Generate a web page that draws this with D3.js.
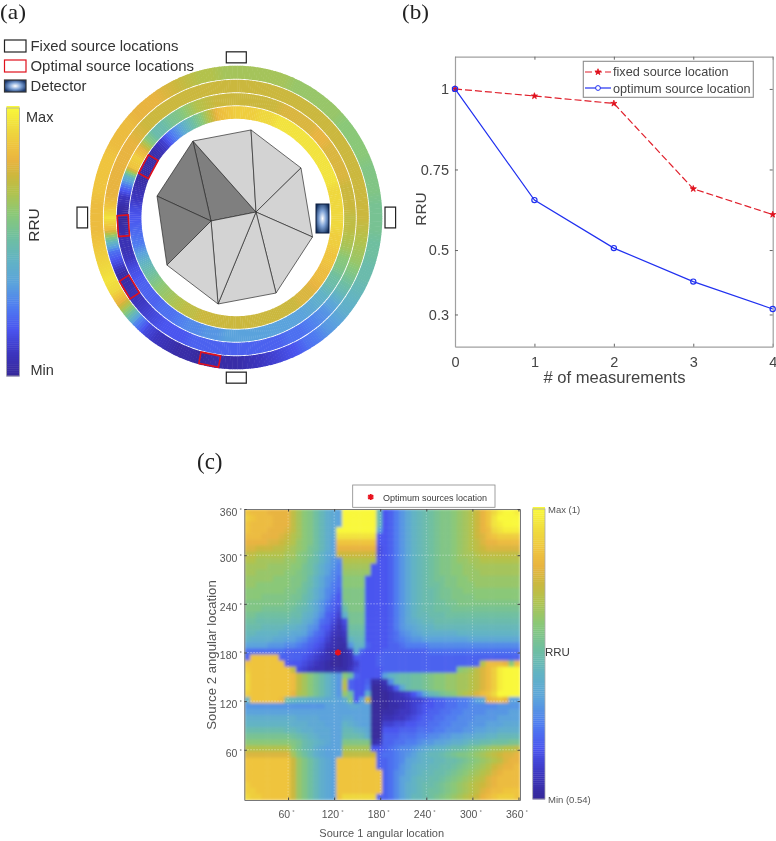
<!DOCTYPE html>
<html>
<head>
<meta charset="utf-8">
<script src="https://cdn.jsdelivr.net/npm/d3@7"></script>
<style>
body { margin: 0; background: #fff; }
svg { display: block; filter: blur(0.35px); }
text { font-family: "Liberation Sans", sans-serif; fill: #3a3a3a; }
.panel { font-family: "Liberation Serif", serif; font-size: 21px; fill: #222; }
.legA { font-size: 15.5px; fill: #333; }
.axB text { font-size: 14.5px; fill: #444; }
.axC text { font-size: 10.5px; fill: #555; }
</style>
</head>
<body>
<svg width="776" height="841"></svg>
<script>
// colour levels 0..35 (min..max RRU)
const levelStops = [0, 3, 6, 9, 12, 15, 18, 21, 24, 26, 28, 30, 32, 35]
const levelColors = ['#37299b', '#3c36c0', '#4a55ef', '#4f7df0', '#5ba3dc', '#62b3c4', '#6fbfa0', '#8ac878', '#b3c24c', '#cbb83e', '#e8b440', '#efc43e', '#efd83e', '#f9f83a']

// (a) ring values, one per 5 degrees, clockwise from the top
const ring1 = [23,23,23,23,23,22,22,22,22,22,21,21,21,21,20,20,20,19,19,19,18,18,17,17,16,15,14,12,11,9,8,6,5,4,3,2,1,1,1,0,1,1,2,3,5,10,20,28,32,33,32,31,30,29,29,29,30,30,30,30,29,29,29,28,28,28,27,26,25,24,24,23]
const ring2 = [26,26,26,26,26,26,26,26,26,26,26,26,26,26,26,26,26,26,26,25,24,23,22,20,18,16,13,11,10,9,8,8,7,7,7,7,7,7,7,7,7,6,6,6,5,4,3,2,1,1,5,8,17,29,33,30,28,28,28,28,28,28,27,26,26,26,26,26,26,26,26,26]
const ring3 = [26,26,26,26,26,27,27,27,27,28,28,27,27,27,27,26,26,26,25,25,24,23,21,20,18,17,15,14,13,12,12,12,12,12,12,12,12,12,11,11,10,10,9,8,8,7,7,7,6,5,3,2,2,1,0,1,3,8,15,30,31,28,21,17,17,19,20,22,24,25,26,26]
const ring4 = [31,31,31,32,32,33,33,33,33,33,33,33,33,33,33,32,32,32,32,32,31,31,30,30,29,29,28,27,27,26,26,26,26,26,26,26,26,26,26,26,26,25,25,24,23,22,21,19,17,15,12,9,8,7,6,5,3,2,1,1,1,1,2,4,8,11,15,18,21,25,29,30]
const ringData = [ring1, ring2, ring3, ring4]
const ringRadii = [146, 132.5, 119.5, 107, 94]

const fixedAngles = [0, 90, 180, 270]
const optimalAngles = [191, 238, 266, 299]
const optimalRings = [0, 1, 2, 3]

// (a) wire mesh
const meshU = [-0.297, 0.101, 0.443, 0.522, 0.272, -0.125, -0.475, -0.543, 0.135, -0.173]
const meshV = [-0.503, -0.576, -0.326, 0.128, 0.497, 0.569, 0.313, -0.141, -0.036, 0.023]
const darkFaces = [[0, 8, 9], [0, 9, 7], [7, 9, 6]]
const lightFaces = [[0, 1, 8], [1, 2, 8], [2, 3, 8], [3, 4, 8], [4, 5, 8], [5, 9, 8], [5, 6, 9]]

// (b)
const measurements = [0, 1, 2, 3, 4]
const fixedRRU = [1, 0.978, 0.955, 0.69, 0.61]
const optimumRRU = [1, 0.655, 0.506, 0.402, 0.317]
const rruTicks = [0.3, 0.5, 0.75, 1]

// (c) ticks and optimum
const degTicksX = [60, 120, 180, 240, 300, 360]
const degTicksY = [60, 120, 180, 240, 300, 360]
const optimum = [125, 180]

// (c) heat map, one base-36 colour level per cell, read in three column blocks, top row first
const heatLeft = ["utttsssspnlkigedc","vutttssspnlkigedc","uttttssspnlkigedc","utttsssrpnlkigedz","tttsssrqonlkigedx","ssssrrqpomlkigecu","rrqqqpponmljigecs","ppooooonnlkjhfdcq","oonnnnnmmlkihfdba","nnnnmmmmlljigecb9","nnmmmmmllkjigeca9","mmmmmlllkkjhfdba8","mmllllllkkihfdb98","lllllllkkjigeca97","lllkkkkkjjhgeca86","kkkkkkkjjihfdb976","kkkjjjjjihgfdb875","jjiiiiiihhfeca764","iihhhhhhggedb8753","hhhggggffedba7642","ggffffeeddca87532","feeeeddccba876421","ccccbbbaa98765321","88888887777654210","7uuuuu77776543210","uuuuuuu6665432100","vuuuuuuup54322111","wuuuuuuutpnljhfdb","wuuuuuuutpnljhfdb","wuuuuuuutpnljhfdb","vuuuuuuusonljhfdb","fuuuuuthgffeeeddc","bbbbbbbbbbbbbbccc","ccccccccccccccccc","eeeeeeeeeddddcccc","ffffffffeeedddccc","hhhhhhhggfeedddcc","jjjjjjjjihgfeddcc","llllllllkjhgfedcc","ooooooooljhgedccc","rrrrrrrrnkigedccc","uuuuuuuuqmkigedcu","uuuuuuuuqmkigedcu","uuuuuuuuqmkigedcu","uuuuuuuuqmkigedcu","vuuuuuuuqmkigedcu","vvuuuuuuqmkigedcu","wvvuuuuuqmkigedcu"]
const heatMid = ["zzzzzzg","zzzzzzg","zzzzzzg","zzzzzzc","xxxxxx6","uuuuuu6","ssssss5","qqqqqq5","oooooo6","nnnnn66","mmmmm66","llll666","llll666","kkkk666","kkkk666","jkkk666","hkkk666","ejjj666","5jjj666","4iii666","3hhh666","2fgg666","1bff766","13d7666","1266667","1246667","1356666","li76666","o766711","p766800","mi66e00","ek6cq00","cddcc00","ccccc00","ddccc00","fedcc00","ggfed00","hhhge00","kkkkk12","nnnnn66","pppppq7","uuuuuu7","uuuuuu7","uuuuuuu","uuuuuuu","uuuuuuu","uuuuuuu","wwwwww7"]
const heatRight = ["679bdfghijkklmnoqsuwyzzy","679bdfghijkklmnoqsuxzzzz","679bdfghijkklmnoqsuxyzzz","679bdfghijkklmnoqstwxyyy","679bdfghijkklmnoqrtuvvvv","679bdfghijkklmnoprsstttt","679bdfghijkklmnopqrrrrrr","679bdfghijkklmnnoppppppp","679bdfghijkklmmnnooooooo","679bdfghijkkllmmnnnnnnnn","679bdfghijkkllmmmnnnnnnn","679bdfghijjkkllmmmmmmmmm","679bdfghiijkklllmmmmmmmm","679bdfghhijjkkllllllllll","679bdfghhijjkkkkllllllll","679bdfghhiijjkkkkkkkkkkk","679bdfghhiiijjjjjjjjjjjj","679bdfgghhhiiiiiiiiiiiii","679bdefgghhhhhhhhhhhhhhh","679bcdeffggggggggggggggg","678abcdeeeeeefffffffffff","6789abbccccccccddddddddd","67789999aaaaaaaaaaaaaaaa","777777778888888888888888","777777777777777777777777","77777777777777777otttslt","7777777777777lmnprtvyzzz","cfghhiijkllmmnnoprtvyzzz","2aghhiijkllmmnnoprtvyzzz","137dhiijkllmmnnoprtvyzzz","0123469dghjklnoprtuwzzzz","012234456778899acdstuscc","011234566778899aaaaabbbb","11233456778899aaaabbbbcc","2233456778899aaabbbbcccc","445566778899aaabbbcccddd","66677788899aaabbccddeeee","77788899aabbccddeeffgggg","778899abbccdeefgghhiiijj","789aabcdeffghhijklmnnoop","889abcefgghijkklmnopqrrs","789acdeffgghhijklmnoprss","789bceffgghhijklmnoqrsst","78abdefgghhijklmnoprsttt","78acdfgghhijklmnoprstttt","78acefghhijklmnopqrstttt","78acefghiijklmnoprsttuuu","78acegghijklmnopqstuvvvu"]

const svg = d3.select("svg")

const colorScale = d3.scaleLinear().domain(levelStops).range(levelColors)
const barLevels = d3.range(0, 35.01, 0.25)

const defs = svg.append("defs")
const blur = defs.append("filter").attr("id", "heatBlur")
    .attr("x", "-2%").attr("y", "-2%").attr("width", "104%").attr("height", "104%")
blur.append("feGaussianBlur").attr("stdDeviation", 1.8)
const detGrad = defs.append("radialGradient").attr("id", "detector")
    .attr("cx", "50%").attr("cy", "50%").attr("r", "60%")
detGrad.append("stop").attr("offset", "0%").attr("stop-color", "#ffffff")
detGrad.append("stop").attr("offset", "45%").attr("stop-color", "#7fa3d6")
detGrad.append("stop").attr("offset", "100%").attr("stop-color", "#12305f")

function colorBar(x, y0, y1, w) {
    const s = d3.scaleLinear().domain([0, 35]).range([y1, y0])
    const g = svg.append("g")
    g.selectAll("rect").data(barLevels).enter().append("rect")
        .attr("x", x)
        .attr("y", d => s(d) - 2)
        .attr("width", w)
        .attr("height", 2.4)
        .attr("fill", d => colorScale(d))
    g.append("rect")
        .attr("x", x).attr("y", y0).attr("width", w).attr("height", y1 - y0)
        .attr("fill", "none").attr("stroke", "#aaa").attr("stroke-width", 0.8)
}

// ---- panel labels
svg.append("text").attr("class", "panel").attr("x", 0).attr("y", 19)
    .attr("textLength", 26).attr("lengthAdjust", "spacingAndGlyphs").text("(a)")
svg.append("text").attr("class", "panel").attr("x", 402).attr("y", 19)
    .attr("textLength", 27).attr("lengthAdjust", "spacingAndGlyphs").text("(b)")
svg.append("text").attr("class", "panel").attr("x", 197).attr("y", 469).style("font-size", "23px").text("(c)")

// ---- (a)
const cx = 236.3, cy = 217.5
const squash = 1.04
const angleScale = d3.scaleLinear().domain([0, 72]).range([0, 2 * Math.PI])
const rings = svg.append("g").attr("transform", `translate(${cx},${cy}) scale(1,${squash})`)
const arc = d3.arc()

ringData.forEach((values, r) => {
    const subs = []
    values.forEach((v, i) => {
        const next = values[(i + 1) % values.length]
        d3.range(5).forEach(k => subs.push({ pos: i + k / 5, level: d3.interpolateNumber(v, next)(k / 5) }))
    })
    rings.append("g").selectAll("path").data(subs).enter().append("path")
        .attr("d", d => arc({
            innerRadius: ringRadii[r + 1] + 0.9,
            outerRadius: ringRadii[r],
            startAngle: angleScale(d.pos - 0.12),
            endAngle: angleScale(d.pos + 0.12)
        }))
        .attr("fill", d => colorScale(d.level))
})

rings.selectAll("rect.optimal").data(optimalAngles).enter().append("rect")
    .attr("class", "optimal")
    .attr("x", -10).attr("y", -5.5).attr("width", 20).attr("height", 11)
    .attr("transform", (d, i) => `rotate(${d}) translate(0,${-(ringRadii[optimalRings[i]] + ringRadii[optimalRings[i] + 1]) / 2})`)
    .attr("fill", "none").attr("stroke", "#e0101c").attr("stroke-width", 1.6)

rings.selectAll("rect.fixed").data(fixedAngles).enter().append("rect")
    .attr("class", "fixed")
    .attr("x", -10).attr("y", -5.3).attr("width", 20).attr("height", 10.6)
    .attr("transform", d => `rotate(${d}) translate(0,-154)`)
    .attr("fill", "#fff").attr("stroke", "#222").attr("stroke-width", 1.2)

const meshX = d3.scaleLinear().domain([-1, 1]).range([cx - 146, cx + 146])
const meshY = d3.scaleLinear().domain([-1, 1]).range([cy - 152, cy + 152])
const facePath = f => "M" + f.map(i => `${meshX(meshU[i])},${meshY(meshV[i])}`).join("L") + "Z"
svg.append("g").selectAll("path").data(darkFaces).enter().append("path")
    .attr("d", facePath).attr("fill", "#7f7f7f").attr("stroke", "#2b2b2b").attr("stroke-width", 0.7)
svg.append("g").selectAll("path").data(lightFaces).enter().append("path")
    .attr("d", facePath).attr("fill", "#d3d3d3").attr("stroke", "#2b2b2b").attr("stroke-width", 0.7)

svg.append("rect").attr("x", 316).attr("y", 204).attr("width", 13).attr("height", 29)
    .attr("fill", "url(#detector)").attr("stroke", "#0c1c3c").attr("stroke-width", 1)

// legend of (a)
const legendNames = ["Fixed source locations", "Optimal source locations", "Detector"]
const legendWidths = [148, 163.5, 56]
const legendStroke = ["#222", "#e0101c", "#333"]
const legendFill = ["#fff", "#fff", "url(#detectorWide)"]
const detWide = defs.append("radialGradient").attr("id", "detectorWide").attr("r", "55%")
detWide.append("stop").attr("offset", "0%").attr("stop-color", "#ffffff")
detWide.append("stop").attr("offset", "50%").attr("stop-color", "#7fa3d6")
detWide.append("stop").attr("offset", "100%").attr("stop-color", "#1c3a70")
const legA = svg.append("g").selectAll("g").data(legendNames).enter().append("g")
    .attr("transform", (d, i) => `translate(0,${40 + i * 20})`)
legA.append("rect").attr("x", 4.5).attr("y", 0).attr("width", 21.5).attr("height", 12)
    .attr("fill", (d, i) => legendFill[i]).attr("stroke", (d, i) => legendStroke[i]).attr("stroke-width", 1.2)
legA.append("text").attr("class", "legA").attr("x", 30.5).attr("y", 10.5)
    .attr("textLength", (d, i) => legendWidths[i]).attr("lengthAdjust", "spacingAndGlyphs").text(d => d)

colorBar(6.5, 108, 376, 13)
svg.append("text").attr("class", "legA").attr("x", 26).attr("y", 122).style("font-size", "14.5px").text("Max")
svg.append("text").attr("class", "legA").attr("x", 30.5).attr("y", 375).style("font-size", "14.5px").text("Min")
svg.append("text").attr("class", "legA").attr("transform", "translate(39,225) rotate(-90)")
    .attr("text-anchor", "middle").text("RRU")

// ---- (b)
const xB = d3.scaleLinear().domain([0, 4]).range([455, 772.7])
const yB = d3.scaleLinear().domain([0.2, 1.1]).range([346.7, 56.7])
const gB = svg.append("g").attr("class", "axB")

const axisStyle = g => {
    g.select(".domain").attr("stroke", "#a0a0a0").attr("stroke-width", 1.2)
    g.selectAll(".tick line").attr("stroke", "#666")
}
gB.append("g").attr("transform", "translate(0,346.7)")
    .call(d3.axisBottom(xB).tickValues(measurements).tickSizeInner(-3).tickSizeOuter(0).tickPadding(10).tickFormat(d3.format("d")))
    .call(axisStyle)
gB.append("g").attr("transform", "translate(0,56.7)")
    .call(d3.axisTop(xB).tickValues(measurements).tickSizeInner(-3).tickSizeOuter(0).tickFormat(""))
    .call(axisStyle)
gB.append("g").attr("transform", "translate(455,0)")
    .call(d3.axisLeft(yB).tickValues(rruTicks).tickSizeInner(-3).tickSizeOuter(0).tickPadding(6).tickFormat(d => d))
    .call(axisStyle)
gB.append("g").attr("transform", "translate(772.7,0)")
    .call(d3.axisRight(yB).tickValues(rruTicks).tickSizeInner(-3).tickSizeOuter(0).tickFormat(""))
    .call(axisStyle)

gB.append("text").attr("x", 614.5).attr("y", 383).attr("text-anchor", "middle")
    .style("font-size", "16.6px").text("# of measurements")
gB.append("text").attr("transform", "translate(425.5,209) rotate(-90)").attr("text-anchor", "middle")
    .style("font-size", "15.5px").text("RRU")

const starB = d3.symbol(d3.symbolStar, 12)
const lineB = d3.line().x((d, i) => xB(measurements[i])).y(d => yB(d))
gB.append("path").datum(fixedRRU).attr("d", lineB)
    .attr("fill", "none").attr("stroke", "#e0202c").attr("stroke-width", 1.2).attr("stroke-dasharray", "7,3")
gB.selectAll("path.fx").data(fixedRRU).enter().append("path").attr("class", "fx")
    .attr("d", starB)
    .attr("transform", (d, i) => `translate(${xB(measurements[i])},${yB(d)})`)
    .attr("fill", "#e0101c").attr("stroke", "#e0101c").attr("stroke-width", 0.8)
gB.append("path").datum(optimumRRU).attr("d", lineB)
    .attr("fill", "none").attr("stroke", "#2030f0").attr("stroke-width", 1.2)
gB.selectAll("circle.op").data(optimumRRU).enter().append("circle").attr("class", "op")
    .attr("cx", (d, i) => xB(measurements[i])).attr("cy", d => yB(d)).attr("r", 2.6)
    .attr("fill", "none").attr("stroke", "#2030f0").attr("stroke-width", 1.2)

gB.append("rect").attr("x", 583.3).attr("y", 61.3).attr("width", 170).attr("height", 36)
    .attr("fill", "#fff").attr("stroke", "#8c8c8c").attr("stroke-width", 1.1)
gB.append("line").attr("x1", 585).attr("x2", 611).attr("y1", 72).attr("y2", 72)
    .attr("stroke", "#e0202c").attr("stroke-width", 1.2).attr("stroke-dasharray", "7,3")
gB.append("path").attr("d", starB).attr("transform", "translate(598,72)")
    .attr("fill", "#e0101c").attr("stroke", "#e0101c").attr("stroke-width", 0.8)
gB.append("text").attr("x", 613).attr("y", 76).style("font-size", "12.7px").text("fixed source location")
gB.append("line").attr("x1", 585).attr("x2", 611).attr("y1", 88).attr("y2", 88)
    .attr("stroke", "#2030f0").attr("stroke-width", 1.2)
gB.append("circle").attr("cx", 598).attr("cy", 88).attr("r", 2.4).attr("fill", "#fff").attr("stroke", "#2030f0")
gB.append("text").attr("x", 613).attr("y", 92.7).style("font-size", "12.7px").text("optimum source location")

// ---- (c)
const heatX = d3.scaleBand().domain(d3.range(48)).range([244.3, 520])
const heatY = d3.scaleBand().domain(d3.range(48)).range([509, 800])
const degX = d3.scaleLinear().domain([3, 362]).range([244.3, 520]).clamp(true)
const degY = d3.scaleLinear().domain([-2, 357]).range([800, 509]).clamp(true)

const heatCells = []
heatLeft.forEach((row, r) => {
    const line = row + heatMid[r] + heatRight[r]
    line.split("").forEach((ch, c) => heatCells.push({ r, c, level: parseInt(ch, 36) }))
})

defs.append("clipPath").attr("id", "heatClip").append("rect")
    .attr("x", 244.3).attr("y", 509).attr("width", 275.7).attr("height", 291)

svg.append("g").attr("clip-path", "url(#heatClip)")
    .append("g").attr("filter", "url(#heatBlur)")
    .selectAll("rect").data(heatCells).enter().append("rect")
    .attr("x", d => heatX(d.c))
    .attr("y", d => heatY(d.r))
    .attr("width", heatX.bandwidth() + 0.5)
    .attr("height", heatY.bandwidth() + 0.5)
    .attr("fill", d => colorScale(d.level))

const gC = svg.append("g").attr("class", "axC")
gC.selectAll("line.gx").data(degTicksX.slice(0, 5)).enter().append("line").attr("class", "gx")
    .attr("x1", d => degX(d)).attr("x2", d => degX(d)).attr("y1", 509).attr("y2", 800)
    .attr("stroke", "#fff").attr("stroke-opacity", 0.4).attr("stroke-width", 0.7).attr("stroke-dasharray", "1.5,1.5")
gC.selectAll("line.gy").data(degTicksY.slice(0, 5)).enter().append("line").attr("class", "gy")
    .attr("y1", d => degY(d)).attr("y2", d => degY(d)).attr("x1", 244.3).attr("x2", 520)
    .attr("stroke", "#fff").attr("stroke-opacity", 0.6).attr("stroke-width", 0.7).attr("stroke-dasharray", "1.5,1.5")

const degFormat = sel => sel.selectAll(".tick text").each(function (d) {
    d3.select(this).text(d)
    d3.select(this).append("tspan").attr("dx", 2).attr("dy", -4).style("font-size", "6px").text("°")
})
const axC = g => {
    g.select(".domain").attr("stroke", "#777").attr("stroke-width", 1)
    g.selectAll(".tick line").attr("stroke", "#444")
}
gC.append("g").attr("transform", "translate(0,800)")
    .call(d3.axisBottom(degX).tickValues(degTicksX).tickSizeInner(-2.5).tickSizeOuter(0).tickPadding(11))
    .call(degFormat).call(axC)
    .selectAll(".tick text").attr("x", -2)
gC.append("g").attr("transform", "translate(0,509)")
    .call(d3.axisTop(degX).tickValues(degTicksX).tickSizeInner(-2.5).tickSizeOuter(0).tickFormat(""))
    .call(axC)
gC.append("g").attr("transform", "translate(244.3,0)")
    .call(d3.axisLeft(degY).tickValues(degTicksY).tickSizeInner(-2.5).tickSizeOuter(0).tickPadding(2.5))
    .call(degFormat).call(axC)
    .selectAll(".tick text").attr("dy", "0.6em")
gC.append("g").attr("transform", "translate(520,0)")
    .call(d3.axisRight(degY).tickValues(degTicksY).tickSizeInner(-2.5).tickSizeOuter(0).tickFormat(""))
    .call(axC)

gC.append("text").attr("x", 381.7).attr("y", 837).attr("text-anchor", "middle").style("font-size", "11px").text("Source 1 angular location")
gC.append("text").attr("transform", "translate(216,655) rotate(-90)").attr("text-anchor", "middle").style("font-size", "13.2px").text("Source 2 angular location")

const starC = d3.symbol(d3.symbolAsterisk, 26)
svg.append("path").attr("d", starC)
    .attr("transform", `translate(${degX(optimum[0])},${degY(optimum[1])})`)
    .attr("fill", "none").attr("stroke", "#e8101c").attr("stroke-width", 2.2)

svg.append("rect").attr("x", 352.7).attr("y", 485).attr("width", 142.3).attr("height", 22.3)
    .attr("fill", "#fff").attr("stroke", "#888").attr("stroke-width", 0.8)
svg.append("path").attr("d", starC).attr("transform", "translate(370.7,497)")
    .attr("fill", "none").attr("stroke", "#e8101c").attr("stroke-width", 2)
svg.append("text").attr("x", 383).attr("y", 500.5).style("font-size", "9px").text("Optimum sources location")

colorBar(532.7, 509, 799, 12.3)
svg.append("text").attr("x", 548).attr("y", 513).style("font-size", "9.5px").style("fill", "#555").text("Max (1)")
svg.append("text").attr("x", 548).attr("y", 803).style("font-size", "9.5px").style("fill", "#555").text("Min (0.54)")
svg.append("text").attr("x", 545).attr("y", 656).style("font-size", "11.5px").text("RRU")
</script>
</body>
</html>
